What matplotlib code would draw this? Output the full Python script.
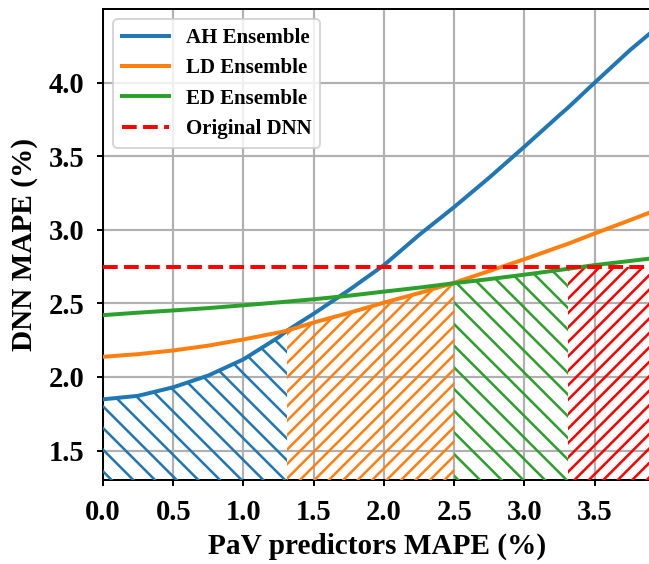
import numpy as np
import matplotlib
matplotlib.use("Agg")
import matplotlib.pyplot as plt

# PaV predictor MAPE (%) sample points
pav_mape = [0.0, 0.25, 0.5, 0.75, 1.0, 1.25, 1.31, 1.5, 1.75, 2.0, 2.25,
            2.5, 2.75, 3.0, 3.25, 3.31, 3.5, 3.75, 3.9]

# DNN MAPE (%) for each ensemble
ah_ensemble = [1.848, 1.872, 1.93, 2.01, 2.12, 2.27, 2.315, 2.43, 2.59, 2.76,
               2.965, 3.155, 3.355, 3.565, 3.78, 3.83, 4.0, 4.22, 4.34]
ld_ensemble = [2.137, 2.155, 2.18, 2.213, 2.255, 2.302, 2.315, 2.37, 2.435,
               2.505, 2.57, 2.64, 2.72, 2.80, 2.885, 2.905, 2.975, 3.065, 3.12]
ed_ensemble = [2.42, 2.437, 2.452, 2.468, 2.487, 2.507, 2.512, 2.528, 2.552,
               2.58, 2.607, 2.637, 2.665, 2.695, 2.727, 2.735, 2.76, 2.788, 2.805]
original_dnn = 2.744

# where each option is the best one
region_bounds = [0.0, 1.31, 2.5, 3.31, 3.9]

DPI = 260
plt.rcParams['font.family'] = ['Liberation Serif', 'DejaVu Serif']
plt.rcParams['font.weight'] = 'bold'
plt.rcParams['axes.labelweight'] = 'bold'
plt.rcParams['hatch.linewidth'] = 0.7

fig = plt.figure(figsize=(649 / DPI, 564 / DPI), dpi=DPI)
ax = fig.add_axes([103 / 649, 1 - 480 / 564, 1.003 - 103 / 649, (480 - 9) / 564])

x = np.array(pav_mape)
ah = np.array(ah_ensemble)
ld = np.array(ld_ensemble)
ed = np.array(ed_ensemble)
dnn = np.full_like(x, original_dnn)

lw = 1.1
ax.plot(x, ah, color='tab:blue', lw=lw, label='AH Ensemble', zorder=4)
ax.plot(x, ld, color='tab:orange', lw=lw, label='LD Ensemble', zorder=4)
ax.plot(x, ed, color='tab:green', lw=lw, label='ED Ensemble', zorder=4)
ax.plot(x, dnn, color='red', lw=lw, ls='--', label='Original DNN', zorder=4)

# hatched areas under the best option
fills = [(ah, 'tab:blue', '\\' * 4), (ld, 'tab:orange', '/' * 6),
         (ed, 'tab:green', '\\' * 4), (dnn, 'red', '/' * 6)]
for i, (yv, c, h) in enumerate(fills):
    mask = (x >= region_bounds[i]) & (x <= region_bounds[i + 1])
    ax.fill_between(x, 0, yv, where=mask, facecolor='none', edgecolor=c,
                    hatch=h, linewidth=0, zorder=3)

ax.set_xlim(0, 3.9)
ax.set_ylim(1.3, 4.5)
ax.set_xticks([0.0, 0.5, 1.0, 1.5, 2.0, 2.5, 3.0, 3.5])
ax.set_yticks([1.5, 2.0, 2.5, 3.0, 3.5, 4.0])
ax.grid(True, color='#b0b0b0', lw=0.6)
ax.set_axisbelow(True)
for s in ax.spines.values():
    s.set_linewidth(0.55)
ax.tick_params(labelsize=7.9, length=1.7, width=0.55, pad=3.5)

ax.set_xlabel('PaV predictors MAPE (%)', fontsize=8.1, labelpad=2)
ax.set_ylabel('DNN MAPE (%)', fontsize=8.1, labelpad=3)

leg = ax.legend(loc='upper left', handlelength=2.25,
                prop={'weight': 'bold', 'size': 5.8})
leg.get_frame().set_linewidth(0.55)

fig.savefig('out.png', dpi=DPI)
